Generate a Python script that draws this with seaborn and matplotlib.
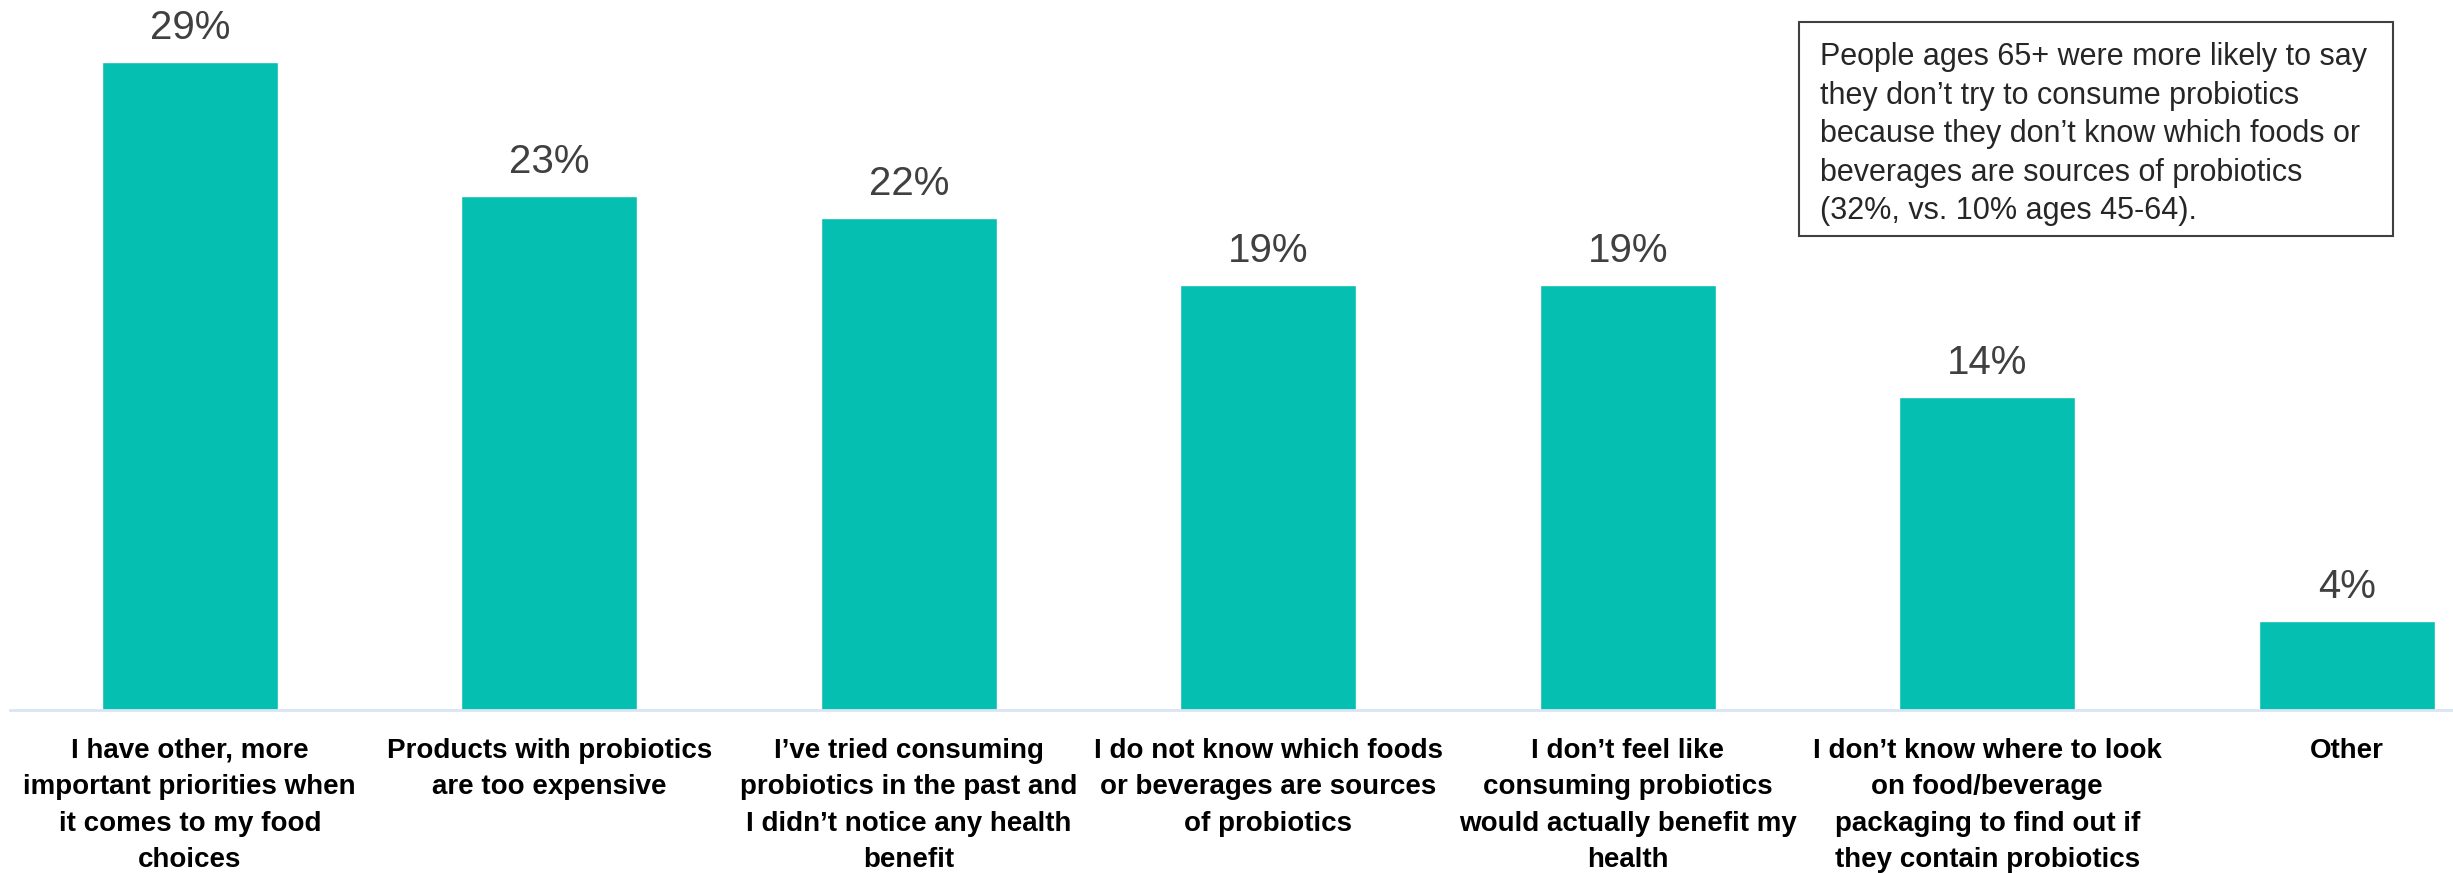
import matplotlib
matplotlib.use("Agg")
import matplotlib.pyplot as plt
from matplotlib.patches import Rectangle
import seaborn as sns
import pandas as pd
import numpy as np

categories = [
    "I have other, more\nimportant priorities when\nit comes to my food\nchoices",
    "Products with probiotics\nare too expensive",
    "I\u2019ve tried consuming\nprobiotics in the past and\nI didn\u2019t notice any health\nbenefit",
    "I do not know which foods\nor beverages are sources\nof probiotics",
    "I don\u2019t feel like\nconsuming probiotics\nwould actually benefit my\nhealth",
    "I don\u2019t know where to look\non food/beverage\npackaging to find out if\nthey contain probiotics",
    "Other",
]
values = [29, 23, 22, 19, 19, 14, 4]
note_text = (
    "People ages 65+ were more likely to say\n"
    "they don\u2019t try to consume probiotics\n"
    "because they don\u2019t know which foods or\n"
    "beverages are sources of probiotics\n"
    "(32%, vs. 10% ages 45-64)."
)

BAR_COLOR = "#05BFB1"
AXIS_COLOR = "#DAE5F3"
W, H = 2453, 873

sns.set_theme(style="white")
plt.rcParams["font.family"] = ["Liberation Sans", "DejaVu Sans"]

df = pd.DataFrame({"reason": categories, "pct": values})

fig = plt.figure(figsize=(W / 100, H / 100), dpi=100)
# plot area: baseline at 710 px from the top, 22.35 px per percentage point
ax = fig.add_axes([10 / W, (H - 710) / H, 7 * 359.5 / W, 30 * 22.35 / H])

sns.barplot(data=df, x="reason", y="pct", color=BAR_COLOR, width=0.49,
            saturation=1, ax=ax)

ax.set_xlim(-0.5, len(categories) - 0.5)
ax.set_ylim(0, 30)
ax.set_xlabel("")
ax.set_ylabel("")
ax.set_yticks([])

for s in ["top", "right", "left"]:
    ax.spines[s].set_visible(False)
ax.spines["bottom"].set_color(AXIS_COLOR)
ax.spines["bottom"].set_linewidth(2)

ax.set_xticks(range(len(categories)))
ax.set_xticklabels(categories, fontsize=20, fontweight="bold", color="black",
                   linespacing=1.52, va="top")
ax.tick_params(axis="x", which="major", length=0, pad=20)
ax.set_xticks(np.arange(-0.5, len(categories), 1.0), minor=True)
ax.tick_params(axis="x", which="minor", length=6, width=1.5, color=AXIS_COLOR,
               direction="out")

for i, v in enumerate(values):
    ax.annotate(f"{v}%", xy=(i, v), xytext=(0, 16.5), textcoords="offset points",
                ha="center", va="baseline", fontsize=29, color="#404040")

# call-out box in the upper right
fig.add_artist(Rectangle((1799 / W, 1 - 236 / H), 594 / W, 214 / H,
                         transform=fig.transFigure, facecolor="white",
                         edgecolor="#404040", linewidth=1.5))
fig.text(1820 / W, 1 - 42 / H, note_text, ha="left", va="top", fontsize=22,
         color="#262626", linespacing=1.37)

fig.savefig("out.png", dpi=100)
